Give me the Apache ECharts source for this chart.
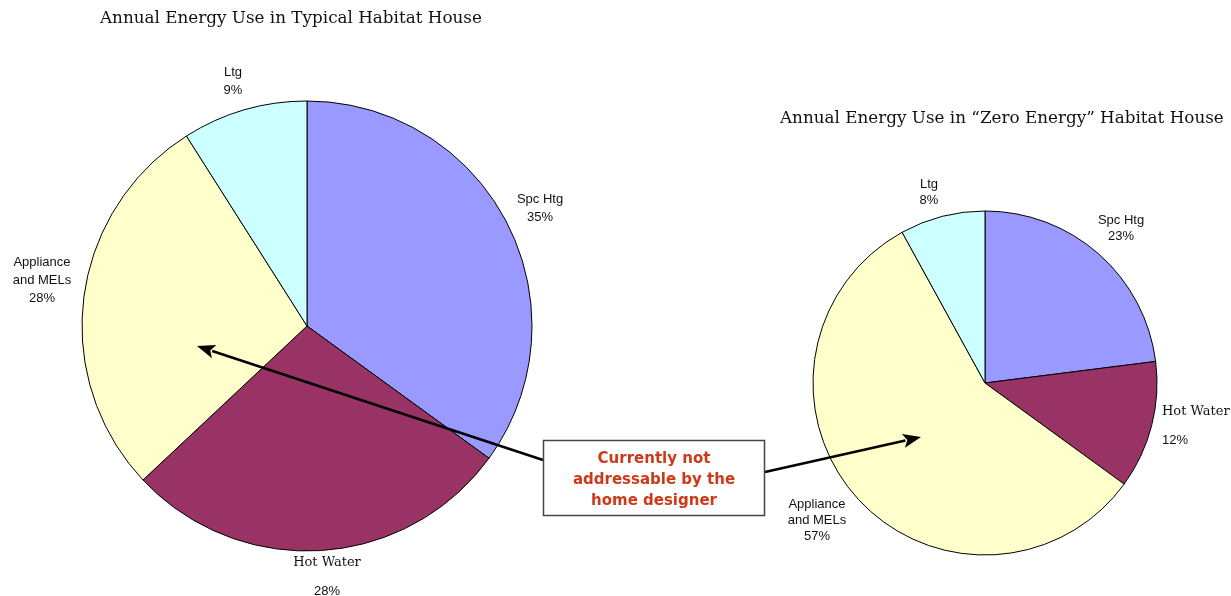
<!DOCTYPE html>
<html>
<head>
<meta charset="utf-8">
<script src="https://cdn.jsdelivr.net/npm/echarts@6/dist/echarts.min.js"></script>
<style>html,body{margin:0;padding:0;background:#fff}#c{width:1231px;height:596px}</style>
</head>
<body>
<div id="c"></div>
<script>
var categories = ['Spc Htg', 'Hot Water', 'Appliance\nand MELs', 'Ltg'];
var typicalValues = [35, 28, 28, 9];
var zeroEnergyValues = [23, 12, 57, 8];
var sliceColors = ['#9999FF', '#993366', '#FFFFCC', '#CCFFFF'];
var titles = ['Annual Energy Use in Typical Habitat House', 'Annual Energy Use in \u201CZero Energy\u201D Habitat House'];
var noteText = 'Currently not\naddressable by the\nhome designer';

// label anchor positions (layout only)
var labelPos = [
  [ {x:540,y:208,align:'center'}, {x:327,y:577,align:'center'}, {x:42,y:280,align:'center'}, {x:233,y:81,align:'center'} ],
  [ {x:1121,y:228,align:'center'}, {x:1162,y:426,align:'left'}, {x:817,y:520,align:'center'}, {x:929,y:192,align:'center'} ]
];

function makeData(vals){
  return categories.map(function(n,i){ return {name:n, value:vals[i], itemStyle:{color:sliceColors[i]}}; });
}
function fmt(p){
  if (p.name === 'Hot Water') return '{s|Hot Water}\n{p|' + p.value + '%}';
  return '{n|' + p.name + '\n' + p.value + '%}';
}
function rich(hotLH, nLH){
  return {
    s:{fontFamily:'"DejaVu Serif", serif', fontSize:13, color:'#111', lineHeight:hotLH},
    p:{fontFamily:'"Liberation Sans", Arial, sans-serif', fontSize:13, color:'#111', lineHeight:hotLH},
    n:{fontFamily:'"Liberation Sans", Arial, sans-serif', fontSize:13, color:'#111', lineHeight:nLH}
  };
}
function pieSeries(vals, idx, center, radius, hotLH, nLH){
  return {
    type:'pie', center:center, radius:radius, startAngle:90, clockwise:true,
    data:makeData(vals), animation:false, silent:true,
    itemStyle:{borderColor:'#000', borderWidth:1},
    label:{show:true, position:'outside', formatter:fmt, rich:rich(hotLH, nLH), align:'center', overflow:'none', width:200},
    labelLine:{show:false},
    avoidLabelOverlap:false,
    labelLayout:function(params){
      var p = labelPos[idx][params.dataIndex];
      return {x:p.x, y:p.y, align:p.align, verticalAlign:'middle'};
    }
  };
}

function arrow(x1,y1,x2,y2){
  var dx=x2-x1, dy=y2-y1, L=Math.sqrt(dx*dx+dy*dy), ux=dx/L, uy=dy/L;
  var hl=18, hw=7;
  var bx=x2-ux*hl, by=y2-uy*hl;
  return [
    {type:'line', shape:{x1:x1,y1:y1,x2:bx+ux*2,y2:by+uy*2}, style:{stroke:'#000', lineWidth:2.5}, z:10},
    {type:'polygon', shape:{points:[[x2,y2],[bx-uy*hw,by+ux*hw],[bx+ux*4,by+uy*4],[bx+uy*hw,by-ux*hw]]}, style:{fill:'#000'}, z:10}
  ];
}

var chart = echarts.init(document.getElementById('c'), null, {renderer:'canvas'});
var graphics = [
  {type:'text', left:100, top:10, style:{text:titles[0], font:'16.8px "DejaVu Serif", serif', fill:'#111'}},
  {type:'text', left:780, top:110, style:{text:titles[1], font:'16.8px "DejaVu Serif", serif', fill:'#111'}},
  {type:'rect', shape:{x:543.5,y:440.5,width:221,height:75}, style:{fill:'#fff', stroke:'#444', lineWidth:1.5}, z:11},
  {type:'text', x:654, y:480, style:{text:noteText, font:'bold 15px "DejaVu Sans", Verdana, sans-serif', fill:'#CC3A1A', align:'center', verticalAlign:'middle', lineHeight:21}, z:12}
].concat(arrow(543,460,197,346)).concat(arrow(765,472,921,437));

chart.setOption({
  backgroundColor:'#fff',
  animation:false,
  series:[
    pieSeries(typicalValues, 0, [307,326], 225, 29, 18),
    pieSeries(zeroEnergyValues, 1, [985,383], 172, 28, 16)
  ],
  graphic:graphics
});
</script>
</body>
</html>
